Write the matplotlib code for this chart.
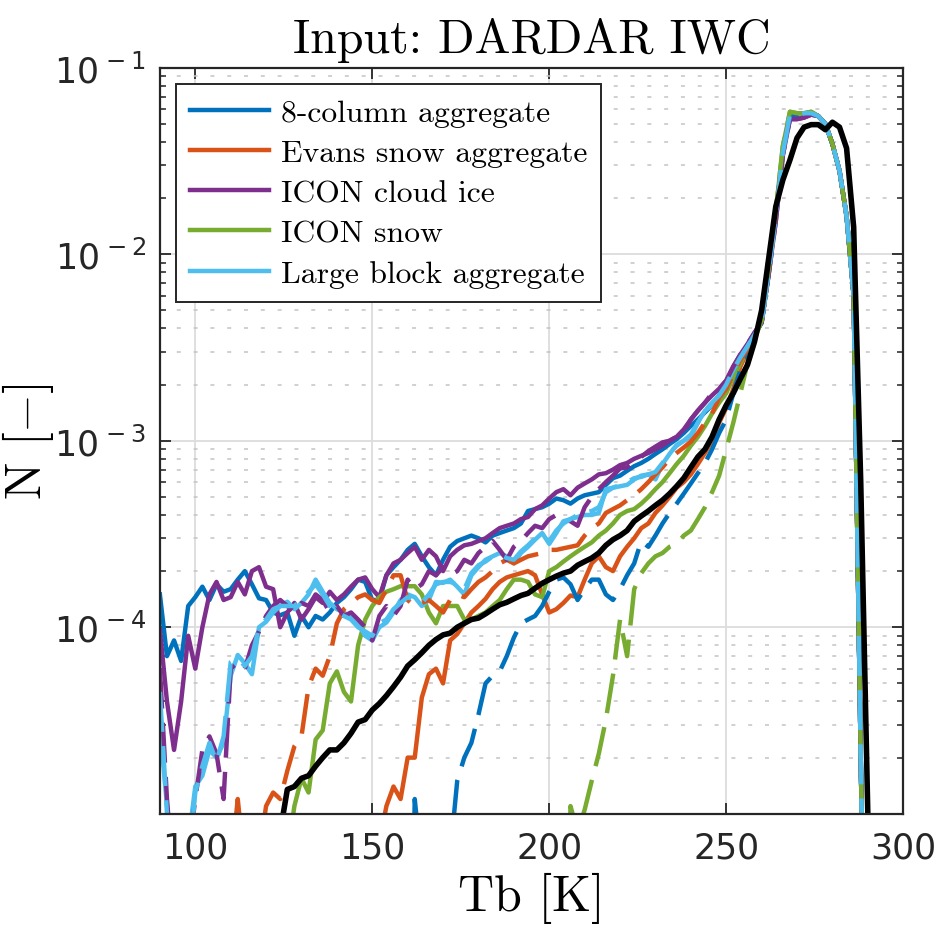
import numpy as np
import matplotlib
matplotlib.use('Agg')
import matplotlib.pyplot as plt
from matplotlib.ticker import FixedLocator, LogLocator, NullLocator, NullFormatter

# tick labels in a Helvetica-like face, everything else in Computer Modern
plt.rcParams['mathtext.fontset'] = 'custom'
plt.rcParams['mathtext.rm'] = 'Liberation Sans'
plt.rcParams['mathtext.it'] = 'Liberation Sans:italic'
plt.rcParams['mathtext.bf'] = 'Liberation Sans:bold'

# brightness temperature bins [K]
tb = np.arange(90, 301, 2)

# observed distribution (black)
obs = [1e-7, 1e-7, 1e-7, 1e-7, 1e-7, 1e-7, 1e-7, 1e-7, 1e-7, 1e-7,
       1e-7, 1e-7, 1e-7, 1e-7, 1e-7, 1e-7, 1e-7, 8e-6, 1.35e-5, 1.4e-5,
       1.55e-5, 1.6e-5, 1.8e-5, 2.0e-5, 2.2e-5, 2.2e-5, 2.4e-5, 2.7e-5, 3.1e-5, 3.2e-5,
       3.6e-5, 3.9e-5, 4.3e-5, 4.8e-5, 5.4e-5, 6.2e-5, 6.7e-5, 7.3e-5, 8.0e-5, 8.6e-5,
       9.1e-5, 9.3e-5, 1.0e-4, 1.05e-4, 1.1e-4, 1.12e-4, 1.18e-4, 1.25e-4, 1.32e-4, 1.36e-4,
       1.42e-4, 1.48e-4, 1.52e-4, 1.62e-4, 1.72e-4, 1.8e-4, 1.88e-4, 1.95e-4, 2.0e-4, 2.15e-4,
       2.25e-4, 2.35e-4, 2.5e-4, 2.75e-4, 2.95e-4, 3.1e-4, 3.3e-4, 3.7e-4, 3.95e-4, 4.2e-4,
       4.5e-4, 4.8e-4, 5.2e-4, 5.7e-4, 6.3e-4, 7.2e-4, 8.2e-4, 9.0e-4, 1.05e-3, 1.3e-3,
       1.55e-3, 1.8e-3, 2.15e-3, 2.55e-3, 3.4e-3, 5.0e-3, 9.5e-3, 1.8e-2, 2.5e-2, 3.2e-2,
       4.2e-2, 4.8e-2, 4.95e-2, 4.95e-2, 4.65e-2, 5.1e-2, 4.8e-2, 3.7e-2, 1.4e-2, 6e-4,
       1.0e-5, 1e-7, 1e-7, 1e-7, 1e-7, 1e-7]

# 8-column aggregate
col8_solid = [1.5e-4, 7e-5, 8.5e-5, 6.6e-5, 1.3e-4, 1.45e-4, 1.65e-4, 1.4e-4, 1.7e-4, 1.55e-4,
              1.6e-4, 1.8e-4, 2.0e-4, 1.7e-4, 1.43e-4, 1.4e-4, 1.2e-4, 1.16e-4, 1.2e-4, 9e-5,
              1.15e-4, 1.0e-4, 1.15e-4, 1.1e-4, 1.2e-4, 1.35e-4, 1.45e-4, 1.6e-4, 1.8e-4, 1.75e-4,
              1.4e-4, 1.4e-4, 1.9e-4, 2.1e-4, 2.3e-4, 2.6e-4, 2.8e-4, 2.4e-4, 2.1e-4, 1.9e-4,
              2.3e-4, 2.7e-4, 2.9e-4, 3.0e-4, 3.1e-4, 3.0e-4, 2.85e-4, 3.1e-4, 3.2e-4, 3.3e-4,
              3.4e-4, 3.6e-4, 4.2e-4, 4.3e-4, 4.4e-4, 4.6e-4, 4.9e-4, 4.8e-4, 4.6e-4, 4.9e-4,
              5.1e-4, 5.2e-4, 5.3e-4, 5.8e-4, 6.3e-4, 6.5e-4, 6.9e-4, 7.3e-4, 7.6e-4, 8.0e-4,
              8.5e-4, 9.0e-4, 9.6e-4, 1.02e-3, 1.1e-3, 1.2e-3, 1.3e-3, 1.42e-3, 1.55e-3, 1.75e-3,
              2.0e-3, 2.3e-3, 2.7e-3, 3.1e-3, 3.7e-3, 4.3e-3, 8.1e-3, 1.6e-2, 3.5e-2, 5.5e-2,
              5.5e-2, 5.6e-2, 5.7e-2, 5.5e-2, 5.0e-2, 3.9e-2, 2.8e-2, 1.6e-2, 6.0e-3, 2e-5,
              1e-7, 1e-7, 1e-7, 1e-7, 1e-7, 1e-7]
col8_dash = [1e-7, 1e-7, 1e-7, 1e-7, 1e-7, 1e-7, 1e-7, 1e-7, 1e-7, 1e-7,
             1e-7, 1e-7, 1e-7, 1e-7, 1e-7, 1e-7, 1e-7, 1e-7, 1e-7, 1e-7,
             1e-7, 1e-7, 1e-7, 1e-7, 1e-7, 1e-7, 1e-7, 1e-7, 1e-7, 1e-7,
             1e-7, 1e-7, 1e-7, 1e-7, 1e-7, 1e-7, 1.2e-5, 5e-6, 1e-7, 1e-7,
             1e-7, 6e-6, 1.5e-5, 2.0e-5, 2.4e-5, 3.4e-5, 5.0e-5, 5.5e-5, 5.8e-5, 7e-5,
             8.8e-5, 1.05e-4, 1.1e-4, 1.15e-4, 1.3e-4, 1.55e-4, 1.8e-4, 1.85e-4, 1.7e-4, 1.4e-4,
             1.6e-4, 1.8e-4, 1.8e-4, 1.5e-4, 1.4e-4, 1.6e-4, 1.9e-4, 2.2e-4, 2.9e-4, 2.7e-4,
             3.1e-4, 3.6e-4, 4.1e-4, 4.6e-4, 5.2e-4, 5.9e-4, 6.7e-4, 7.6e-4, 9.0e-4, 1.1e-3,
             1.3e-3, 1.8e-3, 2.4e-3, 3.0e-3, 3.7e-3, 4.3e-3, 8.0e-3, 1.6e-2, 3.5e-2, 5.5e-2,
             5.5e-2, 5.6e-2, 5.7e-2, 5.5e-2, 5.0e-2, 3.9e-2, 2.8e-2, 1.6e-2, 6.0e-3, 2e-5,
             1e-7, 1e-7, 1e-7, 1e-7, 1e-7, 1e-7]

# Evans snow aggregate
evans_solid = [1e-7, 1e-7, 1e-7, 1e-7, 1e-7, 1e-7, 1e-7, 1e-7, 1e-7, 1e-7,
               1e-7, 1e-7, 1e-7, 1e-7, 1e-7, 1e-7, 1e-7, 1e-7, 1e-7, 1e-7,
               1e-7, 1e-7, 1e-7, 1e-7, 1e-7, 1e-7, 1e-7, 1e-7, 1e-7, 1e-7,
               1e-7, 7e-6, 1.1e-5, 1.4e-5, 1.2e-5, 2.0e-5, 2.0e-5, 4.2e-5, 5.6e-5, 6.0e-5,
               5.0e-5, 8.5e-5, 9.2e-5, 1.05e-4, 1.2e-4, 1.3e-4, 1.42e-4, 1.6e-4, 1.75e-4, 1.85e-4,
               1.9e-4, 1.95e-4, 2.0e-4, 1.9e-4, 1.5e-4, 1.2e-4, 1.25e-4, 1.35e-4, 1.48e-4, 1.45e-4,
               1.8e-4, 2.2e-4, 2.4e-4, 2.1e-4, 2.0e-4, 2.4e-4, 2.7e-4, 3.0e-4, 3.4e-4, 3.6e-4,
               4.1e-4, 4.5e-4, 5.0e-4, 5.6e-4, 6.0e-4, 6.6e-4, 7.5e-4, 8.6e-4, 1.0e-3, 1.25e-3,
               1.5e-3, 1.9e-3, 2.5e-3, 3.0e-3, 3.7e-3, 4.3e-3, 8.0e-3, 1.6e-2, 3.6e-2, 5.6e-2,
               5.5e-2, 5.6e-2, 5.7e-2, 5.5e-2, 5.0e-2, 3.9e-2, 2.8e-2, 1.6e-2, 6.0e-3, 2e-5,
               1e-7, 1e-7, 1e-7, 1e-7, 1e-7, 1e-7]
evans_dash = [1e-7, 1e-7, 1e-7, 1e-7, 1e-7, 1e-7, 1e-7, 1e-7, 1e-7, 1e-7,
              5e-6, 1.2e-5, 5e-6, 1e-7, 6e-6, 1.1e-5, 1.3e-5, 1.2e-5, 1.7e-5, 2.3e-5,
              2.6e-5, 4.8e-5, 6.0e-5, 5.5e-5, 7.0e-5, 1.05e-4, 1.25e-4, 1.35e-4, 1.45e-4, 1.5e-4,
              1.4e-4, 1.35e-4, 1.6e-4, 1.9e-4, 1.9e-4, 1.4e-4, 1.3e-4, 1.35e-4, 1.4e-4, 1.3e-4,
              1.2e-4, 1.4e-4, 1.5e-4, 1.45e-4, 1.6e-4, 1.75e-4, 1.85e-4, 2.0e-4, 2.2e-4, 2.3e-4,
              2.2e-4, 2.3e-4, 2.4e-4, 2.45e-4, 2.5e-4, 2.6e-4, 2.6e-4, 2.65e-4, 2.7e-4, 2.75e-4,
              3.1e-4, 3.4e-4, 3.6e-4, 4.1e-4, 4.3e-4, 4.5e-4, 4.8e-4, 5.1e-4, 5.5e-4, 6.0e-4,
              6.6e-4, 7.2e-4, 8.0e-4, 8.6e-4, 9.2e-4, 9.9e-4, 1.1e-3, 1.25e-3, 1.4e-3, 1.7e-3,
              1.9e-3, 2.3e-3, 2.7e-3, 3.1e-3, 3.7e-3, 4.3e-3, 8.0e-3, 1.6e-2, 3.6e-2, 5.6e-2,
              5.5e-2, 5.6e-2, 5.7e-2, 5.5e-2, 5.0e-2, 3.9e-2, 2.8e-2, 1.6e-2, 6.0e-3, 2e-5,
              1e-7, 1e-7, 1e-7, 1e-7, 1e-7, 1e-7]

# ICON cloud ice
ice_solid = [9.7e-5, 4e-5, 2.2e-5, 4e-5, 9e-5, 6e-5, 1.0e-4, 1.5e-4, 1.75e-4, 1.4e-4,
             1.45e-4, 1.75e-4, 1.5e-4, 2.0e-4, 2.1e-4, 1.65e-4, 1.6e-4, 1.0e-4, 1.2e-4, 1.35e-4,
             1.1e-4, 1.25e-4, 1.45e-4, 1.35e-4, 1.55e-4, 1.4e-4, 1.5e-4, 1.65e-4, 1.8e-4, 1.85e-4,
             1.6e-4, 1.45e-4, 1.9e-4, 2.2e-4, 2.3e-4, 2.5e-4, 2.7e-4, 2.3e-4, 2.6e-4, 2.4e-4,
             2.0e-4, 2.4e-4, 2.6e-4, 2.75e-4, 2.8e-4, 2.9e-4, 3.0e-4, 3.2e-4, 3.4e-4, 3.5e-4,
             3.6e-4, 3.8e-4, 3.9e-4, 4.3e-4, 4.5e-4, 4.9e-4, 5.3e-4, 5.5e-4, 5.1e-4, 5.6e-4,
             5.9e-4, 6.2e-4, 6.6e-4, 6.7e-4, 7.0e-4, 7.4e-4, 7.6e-4, 8.0e-4, 8.3e-4, 8.6e-4,
             9.0e-4, 9.4e-4, 1.0e-3, 1.05e-3, 1.15e-3, 1.3e-3, 1.45e-3, 1.6e-3, 1.75e-3, 1.9e-3,
             2.1e-3, 2.5e-3, 2.9e-3, 3.3e-3, 3.8e-3, 4.3e-3, 7.8e-3, 1.5e-2, 3.4e-2, 5.3e-2,
             5.3e-2, 5.4e-2, 5.6e-2, 5.5e-2, 5.0e-2, 3.9e-2, 2.8e-2, 1.6e-2, 6.0e-3, 2e-5,
             1e-7, 1e-7, 1e-7, 1e-7, 1e-7, 1e-7]
ice_dash = [6e-5, 1.2e-5, 4e-6, 4e-6, 6e-6, 1.2e-5, 2.2e-5, 2.6e-5, 2.1e-5, 1.2e-5,
            6e-5, 6.5e-5, 6.0e-5, 8e-5, 9.5e-5, 1.15e-4, 1.3e-4, 1.4e-4, 1.3e-4, 1.2e-4,
            1.35e-4, 1.3e-4, 1.5e-4, 1.4e-4, 1.2e-4, 1.3e-4, 1.15e-4, 1.2e-4, 1.1e-4, 1.0e-4,
            8.5e-5, 1.15e-4, 1.3e-4, 1.15e-4, 1.3e-4, 1.8e-4, 1.6e-4, 1.7e-4, 2.0e-4, 1.9e-4,
            2.1e-4, 1.9e-4, 2.0e-4, 2.3e-4, 2.2e-4, 2.5e-4, 2.7e-4, 2.9e-4, 2.6e-4, 2.3e-4,
            2.7e-4, 2.9e-4, 3.2e-4, 3.5e-4, 3.4e-4, 3.8e-4, 4.0e-4, 3.8e-4, 3.7e-4, 3.5e-4,
            4.4e-4, 5.0e-4, 5.5e-4, 6.0e-4, 6.5e-4, 7.1e-4, 7.2e-4, 7.6e-4, 8.2e-4, 8.8e-4,
            9.3e-4, 9.8e-4, 1.0e-3, 1.05e-3, 1.1e-3, 1.3e-3, 1.45e-3, 1.6e-3, 1.8e-3, 1.9e-3,
            2.1e-3, 2.5e-3, 2.9e-3, 3.3e-3, 3.8e-3, 4.3e-3, 7.8e-3, 1.5e-2, 3.4e-2, 5.3e-2,
            5.3e-2, 5.4e-2, 5.6e-2, 5.5e-2, 5.0e-2, 3.9e-2, 2.8e-2, 1.6e-2, 6.0e-3, 2e-5,
            1e-7, 1e-7, 1e-7, 1e-7, 1e-7, 1e-7]

# ICON snow
snow_solid = [1e-7, 1e-7, 1e-7, 1e-7, 1e-7, 1e-7, 1e-7, 1e-7, 1e-7, 1e-7,
              1e-7, 1e-7, 1e-7, 1e-7, 1e-7, 1e-7, 1e-7, 1e-7, 6e-6, 1.1e-5,
              1.55e-5, 1.3e-5, 2.5e-5, 2.8e-5, 5.0e-5, 5.8e-5, 4.5e-5, 4.0e-5, 8e-5, 1.1e-4,
              1.3e-4, 1.45e-4, 1.55e-4, 1.6e-4, 1.66e-4, 1.66e-4, 1.66e-4, 1.5e-4, 1.2e-4, 1.05e-4,
              1.3e-4, 1.3e-4, 1.3e-4, 1.1e-4, 1.1e-4, 1.15e-4, 1.2e-4, 1.3e-4, 1.4e-4, 1.6e-4,
              1.8e-4, 1.8e-4, 1.75e-4, 1.5e-4, 1.45e-4, 2.0e-4, 2.1e-4, 2.25e-4, 2.4e-4, 2.55e-4,
              2.7e-4, 2.85e-4, 3.1e-4, 3.3e-4, 3.6e-4, 4.0e-4, 4.2e-4, 4.3e-4, 4.6e-4, 5.0e-4,
              5.5e-4, 6.0e-4, 6.7e-4, 7.5e-4, 8.3e-4, 9.4e-4, 1.05e-3, 1.2e-3, 1.4e-3, 1.6e-3,
              1.8e-3, 2.2e-3, 2.6e-3, 3.1e-3, 3.7e-3, 4.4e-3, 8.3e-3, 1.7e-2, 3.8e-2, 5.8e-2,
              5.7e-2, 5.7e-2, 5.8e-2, 5.5e-2, 5.0e-2, 3.9e-2, 2.8e-2, 1.6e-2, 6.0e-3, 2e-5,
              1e-7, 1e-7, 1e-7, 1e-7, 1e-7, 1e-7]
snow_dash = [1e-7, 1e-7, 1e-7, 1e-7, 1e-7, 1e-7, 1e-7, 1e-7, 1e-7, 1e-7,
             1e-7, 1e-7, 1e-7, 1e-7, 1e-7, 1e-7, 1e-7, 1e-7, 1e-7, 1e-7,
             1e-7, 1e-7, 1e-7, 1e-7, 1e-7, 1e-7, 1e-7, 1e-7, 1e-7, 1e-7,
             1e-7, 1e-7, 1e-7, 1e-7, 1e-7, 1e-7, 1e-7, 1e-7, 1e-7, 1e-7,
             1e-7, 1e-7, 1e-7, 1e-7, 1e-7, 1e-7, 1e-7, 1e-7, 1e-7, 1e-7,
             1e-7, 1e-7, 1e-7, 1e-7, 1e-7, 1e-7, 1e-7, 1e-7, 1.1e-5, 8e-6,
             1.05e-5, 1.5e-5, 2.1e-5, 3.2e-5, 5.5e-5, 1.1e-4, 7e-5, 1.6e-4, 1.95e-4, 2.2e-4,
             2.4e-4, 2.5e-4, 2.7e-4, 2.8e-4, 3.1e-4, 3.3e-4, 3.8e-4, 4.4e-4, 5.3e-4, 6.5e-4,
             9e-4, 1.25e-3, 1.8e-3, 2.6e-3, 3.5e-3, 4.4e-3, 8.3e-3, 1.7e-2, 3.8e-2, 5.8e-2,
             5.7e-2, 5.7e-2, 5.8e-2, 5.5e-2, 5.0e-2, 3.9e-2, 2.8e-2, 1.6e-2, 6.0e-3, 2e-5,
             1e-7, 1e-7, 1e-7, 1e-7, 1e-7, 1e-7]

# Large block aggregate
block_solid = [3e-5, 1.1e-5, 5e-6, 5e-6, 7e-6, 1.4e-5, 1.6e-5, 2.2e-5, 2.0e-5, 2.4e-5,
               5.5e-5, 7.1e-5, 6.4e-5, 5.6e-5, 1.0e-4, 1.07e-4, 1.2e-4, 1.3e-4, 1.37e-4, 1.25e-4,
               1.35e-4, 1.5e-4, 1.8e-4, 1.55e-4, 1.35e-4, 1.25e-4, 1.2e-4, 1.12e-4, 1.05e-4, 9.0e-5,
               8.5e-5, 1.0e-4, 1.06e-4, 1.2e-4, 1.4e-4, 1.5e-4, 1.45e-4, 1.3e-4, 1.4e-4, 1.75e-4,
               1.73e-4, 1.8e-4, 1.65e-4, 1.5e-4, 1.9e-4, 2.1e-4, 2.3e-4, 2.4e-4, 2.5e-4, 2.4e-4,
               2.2e-4, 2.5e-4, 2.7e-4, 2.95e-4, 3.2e-4, 2.8e-4, 3.2e-4, 3.7e-4, 3.8e-4, 3.9e-4,
               4.0e-4, 4.0e-4, 4.1e-4, 5.5e-4, 5.6e-4, 5.7e-4, 5.8e-4, 6.2e-4, 6.5e-4, 6.6e-4,
               6.2e-4, 7.5e-4, 8.5e-4, 9.5e-4, 1.0e-3, 1.05e-3, 1.25e-3, 1.45e-3, 1.55e-3, 1.7e-3,
               2.0e-3, 2.4e-3, 2.8e-3, 3.2e-3, 3.7e-3, 4.3e-3, 8.0e-3, 1.6e-2, 3.5e-2, 5.5e-2,
               5.6e-2, 5.7e-2, 5.7e-2, 5.5e-2, 5.0e-2, 3.9e-2, 2.8e-2, 1.6e-2, 6.0e-3, 2e-5,
               1e-7, 1e-7, 1e-7, 1e-7, 1e-7, 1e-7]
block_dash = [4.5e-5, 1e-5, 4e-6, 4e-6, 5e-6, 1.3e-5, 1.8e-5, 2.4e-5, 1.9e-5, 2.6e-5,
              6.5e-5, 6.8e-5, 6.2e-5, 7.0e-5, 1.0e-4, 1.1e-4, 1.25e-4, 1.3e-4, 1.3e-4, 1.3e-4,
              1.4e-4, 1.55e-4, 1.7e-4, 1.5e-4, 1.3e-4, 1.2e-4, 1.15e-4, 1.1e-4, 1.0e-4, 9.5e-5,
              9.0e-5, 1.05e-4, 1.1e-4, 1.25e-4, 1.35e-4, 1.45e-4, 1.4e-4, 1.35e-4, 1.5e-4, 1.7e-4,
              1.75e-4, 1.75e-4, 1.7e-4, 1.6e-4, 1.95e-4, 2.15e-4, 2.25e-4, 2.4e-4, 2.45e-4, 2.35e-4,
              2.3e-4, 2.55e-4, 2.75e-4, 3.0e-4, 3.1e-4, 2.9e-4, 3.3e-4, 3.6e-4, 3.8e-4, 4.0e-4,
              4.1e-4, 4.2e-4, 4.4e-4, 5.3e-4, 5.6e-4, 5.8e-4, 6.0e-4, 6.3e-4, 6.4e-4, 6.6e-4,
              6.8e-4, 7.6e-4, 8.6e-4, 9.4e-4, 1.0e-3, 1.08e-3, 1.25e-3, 1.45e-3, 1.6e-3, 1.75e-3,
              2.0e-3, 2.4e-3, 2.8e-3, 3.2e-3, 3.7e-3, 4.3e-3, 8.0e-3, 1.6e-2, 3.5e-2, 5.6e-2,
              5.6e-2, 5.7e-2, 5.7e-2, 5.5e-2, 5.0e-2, 3.9e-2, 2.8e-2, 1.6e-2, 6.0e-3, 2e-5,
              1e-7, 1e-7, 1e-7, 1e-7, 1e-7, 1e-7]

labels = ['8-column aggregate', 'Evans snow aggregate', 'ICON cloud ice',
          'ICON snow', 'Large block aggregate']
colors = ['#0072BD', '#D95319', '#7E2F8E', '#77AC30', '#4DBEEE']
solid = [col8_solid, evans_solid, ice_solid, snow_solid, block_solid]
dashed = [col8_dash, evans_dash, ice_dash, snow_dash, block_dash]

ax_col = '#262626'

fig = plt.figure(figsize=(9.35, 9.28), dpi=100)
ax = fig.add_axes([0.171, 0.122, 0.795, 0.804])

handles = []
for lab, c, y in zip(labels, colors, solid):
    h, = ax.plot(tb, y, color=c, lw=3.2, label=lab)
    handles.append(h)
for c, y in zip(colors, dashed):
    ax.plot(tb, y, color=c, lw=3.2, dashes=(9, 3.2))
ax.plot(tb, obs, color='black', lw=4)

ax.set_yscale('log')
ax.set_xlim(90, 300)
ax.set_ylim(1e-5, 1e-1)

ax.set_xticks([100, 150, 200, 250, 300])
ax.xaxis.set_minor_locator(NullLocator())
ax.yaxis.set_major_locator(FixedLocator([1e-4, 1e-3, 1e-2, 1e-1]))
ax.yaxis.set_minor_locator(LogLocator(base=10, subs=np.arange(2, 10), numticks=20))
ax.yaxis.set_minor_formatter(NullFormatter())
ax.set_yticklabels([r'$\mathregular{10^{\,-4}}$', r'$\mathregular{10^{\,-3}}$',
                    r'$\mathregular{10^{\,-2}}$', r'$\mathregular{10^{\,-1}}$'])

ax.tick_params(which='both', direction='in', top=True, right=True,
               colors=ax_col, labelsize=25)
ax.tick_params(which='major', length=8, width=1.3)
ax.tick_params(which='minor', length=4.5, width=1.1)
ax.tick_params(axis='y', pad=10)
ax.tick_params(axis='x', pad=12)
for s in ax.spines.values():
    s.set_color(ax_col)
    s.set_linewidth(1.6)

ax.set_axisbelow(True)
ax.grid(True, which='major', color='#dcdcdc', lw=1.3)
ax.yaxis.grid(True, which='minor', color='#c4c4c4', lw=1.1, linestyle=(0, (2.6, 8.4)))

ax.set_title('Input: DARDAR IWC', family='cmr10', fontsize=34.5, pad=11)
ax.set_xlabel('Tb [K]', family='cmr10', fontsize=36)
ax.set_ylabel(r'N [$-$]', family='cmr10', math_fontfamily='cm', fontsize=36)
ax.xaxis.set_label_coords(0.5, -0.078)
ax.yaxis.set_label_coords(-0.14, 0.5)

leg = ax.legend(handles=handles, loc='upper left', bbox_to_anchor=(0.0215, 0.9776),
                borderaxespad=0, prop={'family': 'cmr10', 'size': 22.8},
                handlelength=2.5, handletextpad=0.36, labelspacing=0.38,
                borderpad=0.45, fancybox=False, framealpha=1, edgecolor=ax_col)
leg.get_frame().set_linewidth(1.4)

fig.savefig('out.png', dpi=100)
